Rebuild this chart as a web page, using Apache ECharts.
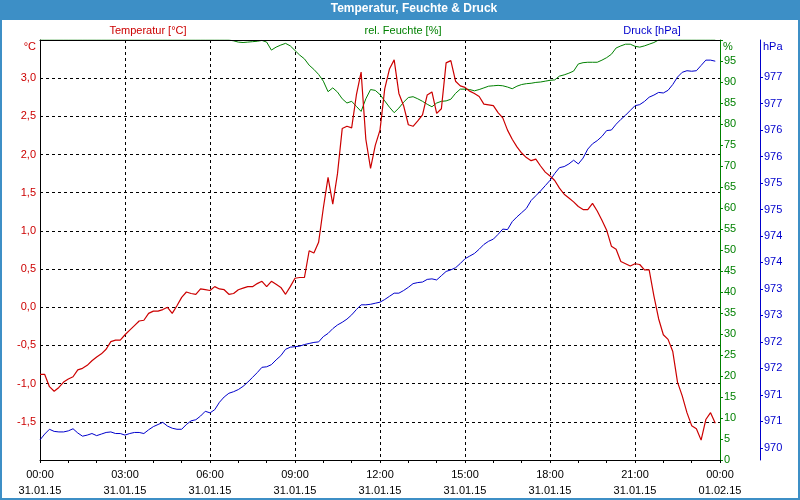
<!DOCTYPE html>
<html>
<head>
<meta charset="utf-8">
<script src="https://cdn.jsdelivr.net/npm/echarts@6/dist/echarts.min.js"></script>
<style>
html,body{margin:0;padding:0;background:#fff;}
#chart{width:800px;height:500px;}
</style>
</head>
<body>
<div id="chart"></div>
<script>
// ---- data (10-minute readings, 31.01.15 00:00 .. 23:50) ----
const startTime = Date.UTC(2015, 0, 31, 0, 0);
const endTime = Date.UTC(2015, 1, 1, 0, 0);
const stepMinutes = 10;

const temperature = [
  -0.88,-0.88,-1.04,-1.10,-1.05,-0.98,-0.94,-0.91,-0.82,-0.80,
  -0.76,-0.70,-0.65,-0.61,-0.55,-0.45,-0.43,-0.43,-0.36,-0.30,
  -0.24,-0.18,-0.17,-0.08,-0.05,-0.05,-0.03,0.00,-0.08,0.02,
  0.13,0.20,0.18,0.17,0.24,0.23,0.22,0.27,0.24,0.23,
  0.17,0.18,0.23,0.25,0.27,0.27,0.31,0.34,0.27,0.34,
  0.30,0.26,0.17,0.27,0.38,0.39,0.39,0.74,0.71,0.85,
  1.30,1.70,1.35,1.75,2.34,2.37,2.35,2.78,3.08,2.20,
  1.82,2.12,2.32,2.86,3.12,3.24,2.80,2.64,2.39,2.37,
  2.44,2.52,2.78,2.82,2.54,2.60,3.20,3.23,2.96,2.90,
  2.88,2.83,2.80,2.76,2.66,2.65,2.64,2.55,2.48,2.32,
  2.20,2.10,2.02,1.96,1.92,1.94,1.85,1.77,1.72,1.66,
  1.56,1.48,1.43,1.38,1.32,1.28,1.28,1.36,1.26,1.14,
  1.01,0.80,0.76,0.60,0.57,0.54,0.57,0.56,0.49,0.49,
  0.15,-0.15,-0.36,-0.42,-0.58,-0.98,-1.16,-1.38,-1.55,-1.59,
  -1.74,-1.47,-1.38,-1.52
];

const humidity = [
  100,100,100,100,100,100,100,100,100,100,
  100,100,100,100,100,100,100,100,100,100,
  100,100,100,100,100,100,100,100,100,100,
  100,100,100,100,100,100,100,100,100,100,
  100,99.8,99.5,99.4,99.5,99.6,99.7,99.9,99.5,97.6,
  98.3,98.8,99.2,98.6,97.5,96.4,95.5,94.0,93.0,91.8,
  90.2,87.7,88.6,87.6,86.0,85.0,85.4,84.2,83.0,86.0,
  88.2,88.0,87.0,85.5,84.0,82.7,83.8,85.2,86.3,86.5,
  86.0,85.4,84.7,84.1,85.0,85.4,85.5,85.9,87.3,88.3,
  88.3,88.2,87.9,88.2,88.6,89.0,89.1,89.2,89.1,88.8,
  88.4,89.0,89.4,89.6,89.7,89.9,90.0,90.2,90.4,90.5,
  91.4,91.7,92.1,92.6,94.3,94.6,94.7,94.7,94.7,95.2,
  95.8,96.6,98.1,98.6,99.0,99.0,98.5,98.3,98.6,99.0,
  99.4,100,100,100,100,100,100,100,100,100,
  100,100,100,100
];

const pressure = [
  970.15,970.26,970.35,970.31,970.30,970.30,970.32,970.36,970.28,970.22,
  970.24,970.27,970.23,970.26,970.29,970.30,970.27,970.27,970.24,970.27,
  970.29,970.29,970.27,970.34,970.40,970.44,970.48,970.41,970.37,970.35,
  970.35,970.44,970.51,970.53,970.60,970.69,970.66,970.72,970.86,970.96,
  971.03,971.06,971.10,971.16,971.24,971.33,971.42,971.52,971.53,971.57,
  971.66,971.74,971.86,971.90,971.91,971.92,971.95,971.97,971.99,972.00,
  972.10,972.16,972.25,972.32,972.37,972.43,972.51,972.61,972.70,972.70,
  972.71,972.73,972.75,972.80,972.86,972.92,972.92,972.97,973.03,973.10,
  973.12,973.13,973.18,973.19,973.17,973.25,973.33,973.36,973.40,973.48,
  973.57,973.62,973.67,973.75,973.84,973.90,973.94,974.03,974.13,974.12,
  974.27,974.36,974.44,974.52,974.67,974.76,974.85,974.95,975.05,975.18,
  975.29,975.31,975.36,975.43,975.36,975.47,975.64,975.74,975.80,975.88,
  975.99,976.00,976.11,976.20,976.28,976.37,976.46,976.48,976.54,976.62,
  976.66,976.71,976.70,976.75,976.86,977.00,977.09,977.12,977.11,977.12,
  977.22,977.32,977.32,977.30
];

const pressureTicks = [970,970.5,971,971.5,972,972.5,973,973.5,974,974.5,975,975.5,976,976.5,977];
const tempRange = [-2, 3.5];
const humidityRange = [0, 100];
const pressureRange = [969.77, 977.70];

const titleText = 'Temperatur, Feuchte & Druck';
const legendTexts = ['Temperatur [°C]', 'rel. Feuchte [%]', 'Druck [hPa]'];
const unitTexts = ['°C', '%', 'hPa'];

// ---- styling ----
const FONT = '"Liberation Sans", Arial, sans-serif';
const RED = '#cc0000', GREEN = '#008000', BLUE = '#0000cc';
const BAR = '#3d8fc6';

const times = temperature.map((_, k) => startTime + k * stepMinutes * 60000);
const pair = arr => arr.map((v, k) => [times[k], v]);
const pad = n => String(n).padStart(2, '0');
const fmtTime = v => {
  const d = new Date(v);
  return pad(d.getUTCHours()) + ':' + pad(d.getUTCMinutes()) + '\n' +
    pad(d.getUTCDate()) + '.' + pad(d.getUTCMonth() + 1) + '.' + pad(d.getUTCFullYear() % 100);
};
const HOUR = 3600000;

const chart = echarts.init(document.getElementById('chart'), null, {renderer: 'canvas'});
chart.setOption({
  animation: false,
  backgroundColor: '#fff',
  textStyle: {fontFamily: FONT},
  graphic: [
    {type: 'rect', z: 0, silent: true, shape: {x: 0, y: 0, width: 800, height: 20}, style: {fill: BAR}},
    {type: 'rect', z: 100, silent: true, shape: {x: 1, y: 1, width: 798, height: 498}, style: {fill: 'none', stroke: BAR, lineWidth: 2}}
  ],
  title: [
    {text: titleText, left: 414, top: 3, padding: 0, textAlign: 'center',
     textStyle: {color: '#fff', fontWeight: 'bold', fontSize: 12, fontFamily: FONT}},
    {text: legendTexts[0], left: 148, top: 25, padding: 0, textAlign: 'center',
     textStyle: {color: RED, fontWeight: 'normal', fontSize: 11, fontFamily: FONT}},
    {text: legendTexts[1], left: 403, top: 25, padding: 0, textAlign: 'center',
     textStyle: {color: GREEN, fontWeight: 'normal', fontSize: 11, fontFamily: FONT}},
    {text: legendTexts[2], left: 652, top: 25, padding: 0, textAlign: 'center',
     textStyle: {color: BLUE, fontWeight: 'normal', fontSize: 11, fontFamily: FONT}}
  ],
  grid: {left: 40, right: 80, top: 40, bottom: 40, containLabel: false},
  xAxis: [
    {
      type: 'value', position: 'bottom', min: startTime, max: endTime, interval: 3 * HOUR,
      axisLine: {show: true, onZero: false, lineStyle: {color: '#000', width: 1}},
      axisTick: {show: true, length: 3, lineStyle: {color: '#000'}},
      minorTick: {show: true, splitNumber: 3, length: 3, lineStyle: {color: '#000'}},
      axisLabel: {show: true, formatter: fmtTime, color: '#000', fontSize: 11, fontFamily: FONT,
                  lineHeight: 16, margin: 7, showMinLabel: true, showMaxLabel: true},
      splitLine: {show: true, showMinLine: false, showMaxLine: false,
                  lineStyle: {color: '#000', type: [3, 3], width: 1}}
    },
    {
      type: 'value', position: 'top', min: startTime, max: endTime, z: 5,
      axisLine: {show: true, onZero: false, lineStyle: {color: '#000', width: 1}},
      axisTick: {show: false}, axisLabel: {show: false}, splitLine: {show: false}
    }
  ],
  yAxis: [
    {
      type: 'value', position: 'left', min: tempRange[0], max: tempRange[1], interval: 0.5,
      name: unitTexts[0], nameLocation: 'end', nameGap: 0,
      nameTextStyle: {color: RED, fontSize: 11, fontFamily: FONT, align: 'right', verticalAlign: 'top', padding: [1, 4, 0, 0]},
      axisLine: {show: true, onZero: false, lineStyle: {color: '#000', width: 1}},
      axisTick: {show: false},
      axisLabel: {color: RED, fontSize: 11, fontFamily: FONT, margin: 4,
        formatter: v => (v === tempRange[1] || v === tempRange[0]) ? '' : v.toFixed(1).replace('.', ',')},
      splitLine: {show: true, showMinLine: false, showMaxLine: false,
                  lineStyle: {color: '#000', type: [3, 3], width: 1}}
    },
    {
      type: 'value', position: 'right', offset: 0, min: humidityRange[0], max: humidityRange[1], interval: 5,
      name: unitTexts[1], nameLocation: 'end', nameGap: 0,
      nameTextStyle: {color: GREEN, fontSize: 11, fontFamily: FONT, align: 'left', verticalAlign: 'top', padding: [1, 0, 0, 3]},
      axisLine: {show: true, onZero: false, lineStyle: {color: GREEN, width: 1}},
      axisTick: {show: true, length: 3, inside: false, lineStyle: {color: GREEN}},
      axisLabel: {color: GREEN, fontSize: 11, fontFamily: FONT, margin: 4, padding: [4, 0, 0, 0],
        formatter: v => v === humidityRange[1] ? '' : String(v)},
      splitLine: {show: false}
    },
    {
      type: 'value', position: 'right', offset: 40, min: pressureRange[0], max: pressureRange[1],
      name: unitTexts[2], nameLocation: 'end', nameGap: 0,
      nameTextStyle: {color: BLUE, fontSize: 11, fontFamily: FONT, align: 'left', verticalAlign: 'top', padding: [1, 0, 0, 3]},
      axisLine: {show: true, onZero: false, lineStyle: {color: BLUE, width: 1}},
      axisTick: {show: true, length: 3, inside: false, customValues: pressureTicks, lineStyle: {color: BLUE}},
      axisLabel: {color: BLUE, fontSize: 11, fontFamily: FONT, margin: 4, customValues: pressureTicks,
        formatter: v => String(Math.round(v))},
      splitLine: {show: false}
    }
  ],
  series: [
    {name: legendTexts[1], type: 'line', xAxisIndex: 0, yAxisIndex: 1, data: pair(humidity),
     showSymbol: false, symbol: 'none', lineStyle: {color: GREEN, width: 1}, itemStyle: {color: GREEN}, z: 2},
    {name: legendTexts[2], type: 'line', xAxisIndex: 0, yAxisIndex: 2, data: pair(pressure),
     showSymbol: false, symbol: 'none', lineStyle: {color: BLUE, width: 1}, itemStyle: {color: BLUE}, z: 2},
    {name: legendTexts[0], type: 'line', xAxisIndex: 0, yAxisIndex: 0, data: pair(temperature),
     showSymbol: false, symbol: 'none', lineStyle: {color: RED, width: 1.2}, itemStyle: {color: RED}, z: 3}
  ]
});
</script>
</body>
</html>
